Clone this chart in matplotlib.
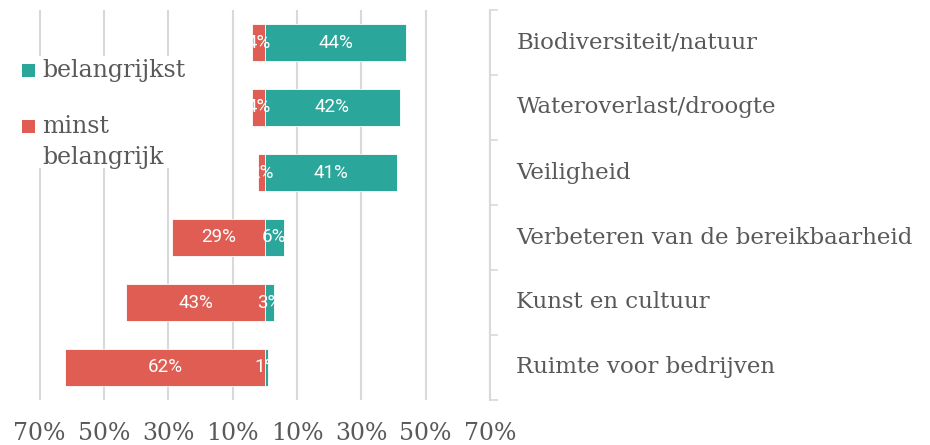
import numpy as np
import matplotlib.pyplot as plt
from matplotlib.patches import Rectangle

categories = ['Biodiversiteit/natuur', 'Wateroverlast/droogte', 'Veiligheid',
              'Verbeteren van de bereikbaarheid', 'Kunst en cultuur',
              'Ruimte voor bedrijven']
minst = [4, 4, 2, 29, 43, 62]
belangrijkst = [44, 42, 41, 6, 3, 1]
xticks = [-70, -50, -30, -10, 10, 30, 50, 70]

teal = '#2aa69b'
red = '#e05d53'
grey = '#595959'
serif = 'DejaVu Serif'
W, H = 930, 445

fig = plt.figure(figsize=(9.3, 4.45), dpi=100)
ax = fig.add_axes([38 / W, 1 - 400 / H, 452 / W, 390 / H])

y = np.arange(len(categories))
ax.barh(y, [-v for v in minst], height=0.56, color=red, edgecolor='white', linewidth=0.6, zorder=3)
ax.barh(y, belangrijkst, height=0.56, color=teal, edgecolor='white', linewidth=0.6, zorder=3)

for i in range(len(categories)):
    ax.text(-minst[i] / 2, y[i], f'{minst[i]}%', ha='center', va='center',
            color='white', fontsize=13.5, family='Roboto', zorder=4)
    ax.text(belangrijkst[i] / 2, y[i], f'{belangrijkst[i]}%', ha='center', va='center',
            color='white', fontsize=13.5, family='Roboto', zorder=4)

ax.set_xlim(-70.5, 70)
ax.set_ylim(len(categories) - 0.5, -0.5)

ax.set_xticks(xticks)
ax.set_xticklabels([f'{abs(t)}%' for t in xticks], family=serif, fontsize=17, color=grey)
ax.tick_params(axis='x', length=0, pad=16)
ax.grid(axis='x', color='#d9d9d9', linewidth=1.5, zorder=0)

ax.yaxis.tick_right()
ax.set_yticks(y)
ax.set_yticklabels(categories, family=serif, fontsize=16.5, color=grey, va='center')
ax.tick_params(axis='y', which='major', length=0, pad=19)
ax.set_yticks(np.arange(-0.5, len(categories)), minor=True)
ax.tick_params(axis='y', which='minor', length=6, width=1.2, color='#d9d9d9', direction='out')

for s in ['top', 'bottom', 'left']:
    ax.spines[s].set_visible(False)
ax.spines['right'].set_color('#d9d9d9')
ax.spines['right'].set_linewidth(1.5)

# legend drawn by hand (square sits next to the first line of a wrapped label)
def px(x, yy):
    return x / W, 1 - yy / H

fig.add_artist(Rectangle(px(8, 168), 195 / W, 112 / H, facecolor='white',
                         edgecolor='none', transform=fig.transFigure, zorder=5))
legend_items = [(teal, ['belangrijkst'], 77), (red, ['minst', 'belangrijk'], 133)]
for color, lines, base in legend_items:
    fig.add_artist(Rectangle(px(22, base), 13 / W, 13 / H, facecolor=color,
                             edgecolor='none', transform=fig.transFigure, zorder=6))
    for k, line in enumerate(lines):
        fig.text(*px(42, base + 31 * k), line, family=serif, fontsize=17, color=grey,
                 ha='left', va='baseline', zorder=6)

fig.savefig('out.png', dpi=100)
